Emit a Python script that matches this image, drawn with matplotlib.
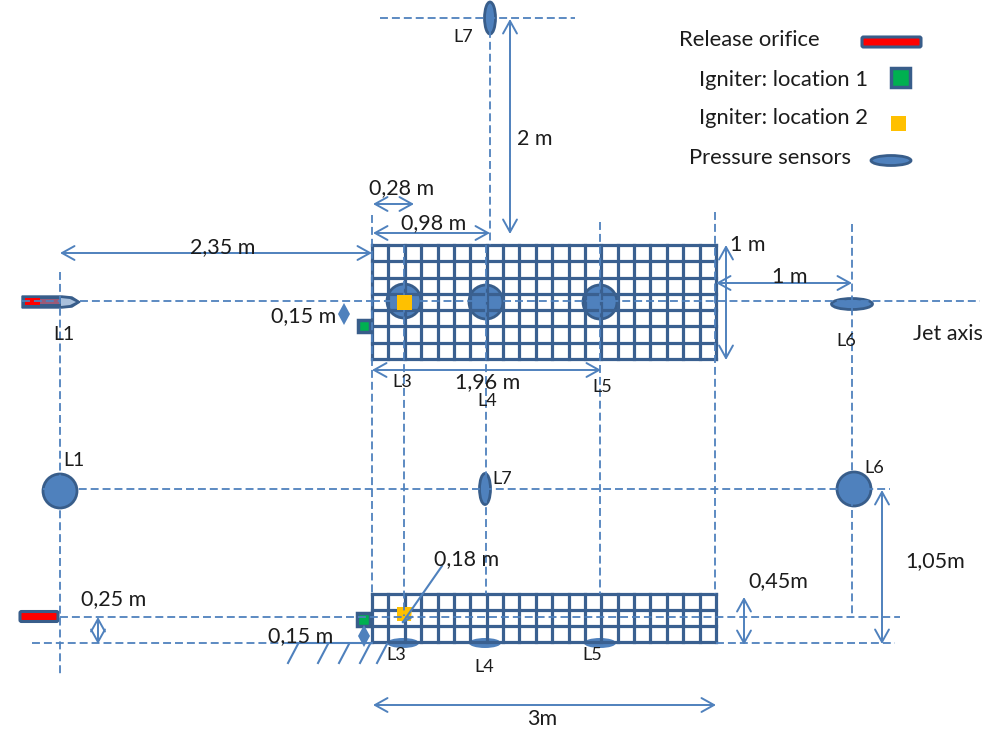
import numpy as np
import matplotlib
matplotlib.use("Agg")
import matplotlib.pyplot as plt
from matplotlib.patches import Ellipse, Rectangle, FancyBboxPatch, Polygon

plt.rcParams['font.family'] = ['Lato', 'DejaVu Sans']

BLUE = '#4f81bd'
DARK = '#385d8a'
GRID = '#3a6090'
TXT = '#1c1c1c'

# dashed guide lines: x0, y0, x1, y1
guides = [
    (22, 301, 60, 301), (80, 301, 372, 301), (372, 301, 980, 301),
    (380, 18, 575, 18), (490, 18, 490, 245),
    (60, 272, 60, 675), (372, 215, 372, 594), (404, 245, 404, 616),
    (486, 245, 486, 594), (600, 222, 600, 594), (715, 212, 715, 594),
    (852, 224, 852, 617),
    (43, 489, 890, 489),
    (60, 617, 900, 617), (32, 643, 290, 643), (716, 643, 895, 643),
]

# double arrows: x0, y0, x1, y1
dims = [
    (60, 253, 372, 253), (373, 204, 414, 204), (373, 233, 490, 233),
    (510, 19, 510, 234), (726, 245, 726, 360), (716, 283, 852, 283),
    (372, 370, 601, 370), (882, 490, 882, 644), (744, 597, 744, 645),
    (98, 617, 98, 644), (373, 705, 716, 705),
]
# small filled diamonds: x, y
diamonds = [(344, 314), (364, 636)]

# text labels: x, y, string, size
labels = [
    (190, 247, '2,35 m', 15.5), (369, 188, '0,28 m', 15.5), (401, 223, '0,98 m', 15.5),
    (517, 139, '2 m', 15.5), (730, 245, '1 m', 15.5), (772, 277, '1 m', 15.5),
    (271, 316, '0,15 m', 15.5), (455, 382, '1,96 m', 15.5), (913, 334, 'Jet axis', 15.5),
    (748, 581, '0,45m', 15.5), (905, 561, '1,05m', 15.5), (434, 559, '0,18 m', 15.5),
    (81, 599, '0,25 m', 15.5), (268, 636, '0,15 m', 15.5), (527, 719, '3m', 15.5),
    (679, 40, 'Release orifice', 15.8), (699, 80, 'Igniter: location 1', 15.8),
    (699, 118, 'Igniter: location 2', 15.8), (689, 158, 'Pressure sensors', 15.8),
    (53, 335, 'L1', 14), (63, 461, 'L1', 14), (392, 382, 'L3', 13), (477, 401, 'L4', 13),
    (592, 387, 'L5', 13), (836, 341, 'L6', 13), (864, 468, 'L6', 13), (453, 37, 'L7', 13),
    (492, 479, 'L7', 13), (386, 655, 'L3', 13), (474, 667, 'L4', 13), (582, 655, 'L5', 13),
]

# grid structure
grid_left = 372
grid_right = 716
n_cols = 21
top_y0, top_y1, top_rows = 245, 359, 7
side_y0, side_y1, side_rows = 594, 642, 3

# circles for sensors on floor plan: x, y, r
sensor_circles = [(404, 301, 17), (486, 302, 17), (600, 302, 17), (60, 491, 17), (854, 489, 17)]
# ellipses: x, y, w, h
sensor_ellipses = [(490, 18, 11, 32), (852, 304, 41, 11), (485, 489, 11, 31)]
floor_bumps = [(403, 643, 32, 10), (485, 643, 32, 10), (600, 643, 32, 10)]
hatch_x = [298, 328, 349, 370, 387]


fig = plt.figure(figsize=(9.85, 7.33), dpi=100)
ax = fig.add_axes([0, 0, 1, 1])
ax.set_xlim(0, 985)
ax.set_ylim(733, 0)
ax.axis('off')

# circles and sensors under the grid
for x, y, r in sensor_circles:
    ax.add_patch(Ellipse((x, y), 2 * r, 2 * r, fc=BLUE, ec=DARK, lw=2, zorder=2))
for x, y, w, h in sensor_ellipses:
    ax.add_patch(Ellipse((x, y), w, h, fc=BLUE, ec=DARK, lw=2, zorder=2))
for x, y, w, h in floor_bumps:
    ax.add_patch(Ellipse((x, y), w, h, fc=BLUE, ec='none', zorder=2))

# grids
for y0, y1, rows in [(top_y0, top_y1, top_rows), (side_y0, side_y1, side_rows)]:
    for x in np.linspace(grid_left, grid_right, n_cols + 1):
        ax.plot([x, x], [y0, y1], color=GRID, lw=2.3, zorder=3, solid_capstyle='projecting')
    for y in np.linspace(y0, y1, rows + 1):
        ax.plot([grid_left, grid_right], [y, y], color=GRID, lw=2.3, zorder=3, solid_capstyle='projecting')


# source symbols
def orifice(x, y, w, h, zo=4):
    ax.add_patch(FancyBboxPatch((x, y), w, h, boxstyle='round,pad=0,rounding_size=1.5',
                                fc='#ff0000', ec=DARK, lw=2.2, zorder=zo))


orifice(20, 611.5, 38, 10)
orifice(862, 37, 59, 10)
ax.add_patch(Polygon([(22, 296), (62, 296), (72, 297), (80, 302), (72, 307), (62, 308), (22, 308)],
                     closed=True, fc=DARK, ec=DARK, lw=1, zorder=4))
ax.add_patch(Rectangle((25, 298), 15, 7, fc='#ff0000', ec='none', zorder=5))
ax.add_patch(Rectangle((40, 299), 20, 5, fc='#9a5a78', ec='none', zorder=5))
ax.add_patch(Polygon([(61, 298), (70, 299), (76, 302), (70, 305), (61, 306)], closed=True,
                     fc='#a9c0dc', ec='none', zorder=5))


def square(x, y, s, fc, ec=None, zo=6):
    ax.add_patch(Rectangle((x - s / 2, y - s / 2), s, s, fc=fc,
                           ec=ec if ec else 'none', lw=2.5 if ec else 0, zorder=zo))


square(364, 326, 12, '#00b050', DARK)
square(363, 619, 13, '#00b050', DARK)
square(900.5, 77, 19, '#00b050', DARK)
square(404, 302, 15, '#ffc000', zo=7.5)
square(898.5, 123, 15, '#ffc000')
ax.add_patch(Polygon([(397, 607), (412, 607), (411, 621), (397, 621)], closed=True,
                     fc='#ffc000', ec='none', zorder=6))
ax.add_patch(Ellipse((891, 160.5), 40, 10, fc=BLUE, ec=DARK, lw=2, zorder=4))

# dashed guides
for x0, y0, x1, y1 in guides:
    ax.plot([x0, x1], [y0, y1], color=BLUE, lw=1.3, dashes=(4.4, 2.2), zorder=7)

# dimension arrows
for x0, y0, x1, y1 in dims:
    ax.annotate('', xy=(x1, y1), xytext=(x0, y0), zorder=8,
                arrowprops=dict(arrowstyle='<->,head_length=0.9,head_width=0.5',
                                color=BLUE, lw=1.4, shrinkA=0, shrinkB=0))
for x, y in diamonds:
    ax.plot([x], [y], marker='d', color=BLUE, ms=11, mew=0, zorder=8)

# floor and hatching
ax.plot([288, 372], [643, 643], color=BLUE, lw=1.5, zorder=7)
for x in hatch_x:
    ax.plot([x, x - 10], [644, 663], color=BLUE, lw=1.5, zorder=7)
# leader of the 0,18 m label
ax.plot([442, 403], [566, 622], color=BLUE, lw=1.5, zorder=8)
ax.plot([403, 412], [622, 617], color=BLUE, lw=1.5, zorder=8)

for x, y, s, size in labels:
    ax.text(x, y, s, fontsize=size, color=TXT, ha='left', va='center', zorder=9)

fig.savefig('out.png', dpi=100)
